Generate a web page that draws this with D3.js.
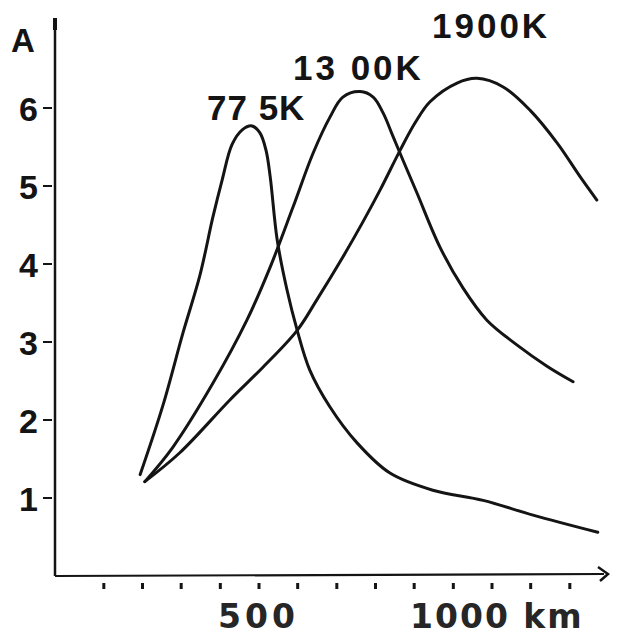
<!DOCTYPE html>
<html>
<head>
<meta charset="utf-8">
<script src="https://cdn.jsdelivr.net/npm/d3@7"></script>
<style>
  body { margin: 0; background: #fff; }
  svg { display: block; }
</style>
</head>
<body>
<svg class="chart" width="623" height="637"></svg>
<script>
// curve values: distance in km, intensity A
let km775 = [245, 294, 337, 373, 401, 421, 442, 464, 485, 502, 515, 524, 539, 560, 582, 609, 652, 710, 781, 873, 981, 1088, 1227];
let a775  = [1.30, 2.19, 3.12, 3.85, 4.60, 5.08, 5.53, 5.72, 5.77, 5.68, 5.46, 5.12, 4.31, 3.67, 3.15, 2.64, 2.17, 1.71, 1.32, 1.10, 0.97, 0.78, 0.56];

let km1300 = [255, 315, 401, 474, 524, 573, 616, 652, 680, 717, 745, 766, 788, 809, 839, 888, 938, 989, 1054, 1118, 1174];
let a1300  = [1.21, 1.65, 2.47, 3.28, 3.96, 4.73, 5.42, 5.88, 6.14, 6.21, 6.14, 5.94, 5.63, 5.33, 4.91, 4.22, 3.69, 3.28, 2.96, 2.69, 2.49];

let km1900 = [255, 330, 438, 509, 582, 624, 680, 723, 760, 803, 835, 867, 925, 968, 1024, 1082, 1140, 1189, 1225];
let a1900  = [1.21, 1.58, 2.26, 2.68, 3.15, 3.54, 4.09, 4.54, 4.95, 5.46, 5.81, 6.08, 6.32, 6.38, 6.27, 5.97, 5.55, 5.12, 4.82];

let curveLabels = ["77 5K", "13 00K", "1900K"];
let yTicks = [1, 2, 3, 4, 5, 6];
let xTicks = [167, 250, 333, 417, 500, 583, 667, 750, 833, 917, 1000, 1083, 1167];

let inkColor = "#141414";
let fontFamily = "Liberation Sans, Arial, sans-serif";

function drawChart(svgClass) {
  let svg = d3.select(svgClass);

  let xScale = d3.scaleLinear()
    .domain([500, 1000])
    .range([259, 492]);

  let yScale = d3.scaleLinear()
    .domain([0, 6])
    .range([576, 108]);

  let axisX = 55;
  let axisY = yScale(0);

  // y axis
  svg.append("line")
    .attr("x1", axisX).attr("x2", axisX)
    .attr("y1", 18).attr("y2", axisY)
    .style("stroke", inkColor)
    .style("stroke-width", 2.5);

  svg.append("rect")
    .attr("x", axisX - 2).attr("y", 18)
    .attr("width", 4).attr("height", 12)
    .style("fill", inkColor);

  svg.selectAll(".yTick")
    .data(yTicks)
    .enter()
    .append("line")
    .attr("x1", axisX - 12).attr("x2", axisX - 3)
    .attr("y1", d => yScale(d)).attr("y2", d => yScale(d))
    .style("stroke", inkColor)
    .style("stroke-width", 2);

  svg.selectAll(".yLabel")
    .data(yTicks)
    .enter()
    .append("text")
    .attr("x", 38)
    .attr("y", d => yScale(d) + 13)
    .text(d => d)
    .style("text-anchor", "end")
    .style("font-family", fontFamily)
    .style("font-weight", "bold")
    .style("font-size", "34px")
    .style("fill", inkColor);

  svg.append("text")
    .attr("x", 11)
    .attr("y", 52)
    .text("A")
    .style("font-family", fontFamily)
    .style("font-weight", "bold")
    .style("font-size", "33px")
    .style("fill", inkColor);

  // x axis
  svg.append("line")
    .attr("x1", axisX).attr("x2", 604)
    .attr("y1", axisY).attr("y2", axisY - 2)
    .style("stroke", inkColor)
    .style("stroke-width", 2.2);

  svg.append("path")
    .attr("d", "M598," + (axisY - 9) + " L608," + (axisY - 2) + " L600," + (axisY + 5))
    .style("fill", "none")
    .style("stroke", inkColor)
    .style("stroke-width", 2.5);

  svg.selectAll(".xTick")
    .data(xTicks)
    .enter()
    .append("line")
    .attr("x1", d => xScale(d)).attr("x2", d => xScale(d))
    .attr("y1", axisY + 7).attr("y2", axisY + 13)
    .style("stroke", inkColor)
    .style("stroke-width", 3);

  svg.append("text")
    .attr("x", xScale(500) - 41)
    .attr("y", 628)
    .text("500")
    .style("letter-spacing", "4px")
    .style("font-family", "DejaVu Sans, sans-serif")
    .style("font-weight", "bold")
    .style("font-size", "33px")
    .style("fill", "#262626");

  svg.append("text")
    .attr("x", xScale(1000) - 82)
    .attr("y", 628)
    .text("1000 km")
    .style("letter-spacing", "2px")
    .style("font-family", "DejaVu Sans, sans-serif")
    .style("font-weight", "bold")
    .style("font-size", "33px")
    .style("fill", "#262626");

  // curves
  let line = d3.line()
    .x(d => xScale(d[0]))
    .y(d => yScale(d[1]))
    .curve(d3.curveCatmullRom.alpha(0.5));

  let series = [
    d3.zip(km775, a775),
    d3.zip(km1300, a1300),
    d3.zip(km1900, a1900)
  ];

  svg.selectAll(".curve")
    .data(series)
    .enter()
    .append("path")
    .attr("d", line)
    .style("fill", "none")
    .style("stroke", inkColor)
    .style("stroke-width", 3)
    .style("stroke-linecap", "round");

  // temperature labels
  let labelPos = [[207, 120, 1], [293, 80, 3], [432, 38, 3]];
  svg.selectAll(".curveLabel")
    .data(curveLabels)
    .enter()
    .append("text")
    .attr("x", (d, i) => labelPos[i][0])
    .attr("y", (d, i) => labelPos[i][1])
    .text(d => d)
    .style("letter-spacing", (d, i) => labelPos[i][2] + "px")
    .style("font-family", fontFamily)
    .style("font-weight", "bold")
    .style("font-size", "35px")
    .style("fill", inkColor);
}

drawChart(".chart");
</script>
</body>
</html>
